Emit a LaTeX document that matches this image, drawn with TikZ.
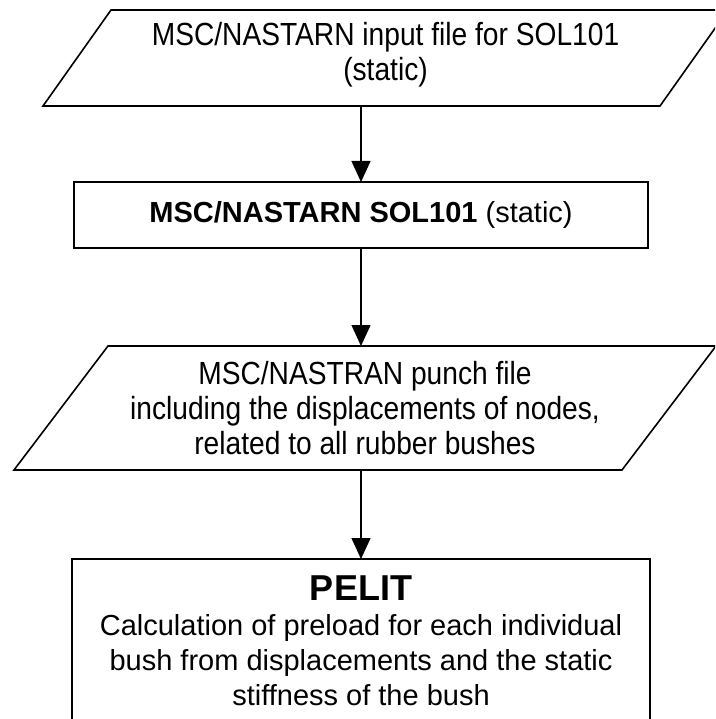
\documentclass[tikz,border=0pt]{standalone}
\usepackage{fontspec}
\setmainfont{Liberation Sans}
\newfontfamily\narrowsans[FakeStretch=0.88]{Liberation Sans}
\usetikzlibrary{arrows.meta}
\tikzset{
  txt/.style={rectangle, draw=none, inner sep=0pt, outer sep=0pt, align=center, text=black},
  boxst/.style={rectangle, draw=black, line width=1.6pt, inner sep=0pt, outer sep=0pt, align=center},
  shapeline/.style={draw=black, line width=1.6pt, line join=miter},
  arr/.style={draw=black, line width=1.3pt, -{Triangle[length=21pt,width=19pt]}},
  iotext/.style={txt, font=\narrowsans\fontsize{32}{35}\selectfont},
}
\begin{document}
\begin{tikzpicture}[x=1pt,y=-1pt]
\useasboundingbox (0,0) rectangle (715,719);
\fill[white] (0,0) rectangle (715,719);
\begin{scope}
\clip (0,0) rectangle (715,719);
% input file (parallelogram)
\node[txt, minimum width=617, minimum height=96] (p1) at (385.5,58) {};
\draw[shapeline] ([xshift=34pt]p1.north west) -- ([xshift=34pt]p1.north east)
  -- ([xshift=-34pt]p1.south east) -- ([xshift=-34pt]p1.south west) -- cycle;
\node[iotext, anchor=north] (p1t) at (385.5,22)
  {MSC/NASTARN input file for SOL101\\(static)};
% solver box
\node[boxst, minimum width=574, minimum height=66,
      font=\fontsize{29}{34}\selectfont] (r2) at (361,215)
  {\textbf{MSC/NASTARN SOL101} (static)};
% punch file (parallelogram)
\node[iotext, minimum width=608, minimum height=124] (p3) at (365,408)
  {MSC/NASTRAN punch file\\including the displacements of nodes,\\related to all rubber bushes};
\draw[shapeline] ([xshift=47pt]p3.north west) -- ([xshift=47pt]p3.north east)
  -- ([xshift=-47pt]p3.south east) -- ([xshift=-47pt]p3.south west) -- cycle;
% PELIT box (open at the bottom of the picture)
\node[boxst, minimum width=578, minimum height=200, anchor=north] (r4) at (361,559) {};
\node[txt, anchor=north, font=\fontsize{29}{35}\selectfont] (r4t) at (361,576)
  {{\fontsize{36}{38}\selectfont\bfseries PELIT}\\Calculation of preload for each individual\\bush from displacements and the static\\stiffness of the bush};
% connectors
\draw[arr] (p1.south -| r2.north) -- (r2.north);
\draw[arr] (r2.south) -- (r2.south |- p3.north);
\draw[arr] (p3.south -| r4.north) -- (r4.north);
\end{scope}
\end{tikzpicture}
\end{document}
